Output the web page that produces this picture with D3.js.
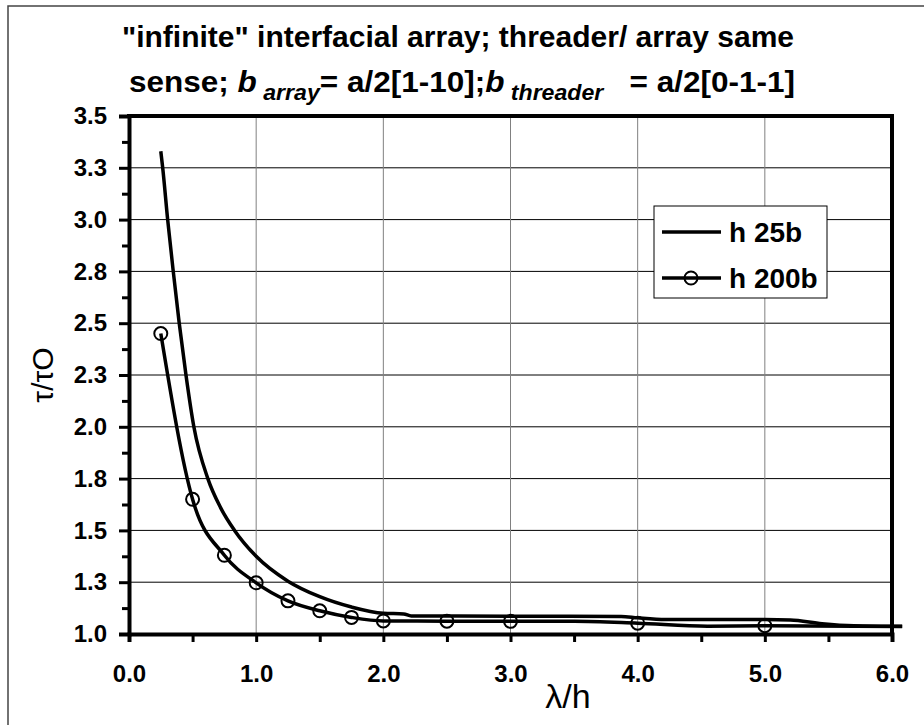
<!DOCTYPE html>
<html>
<head>
<meta charset="utf-8">
<script src="https://cdn.jsdelivr.net/npm/d3@7"></script>
<style>
  body { margin: 0; background: #fff; }
  svg text { font-family: "Liberation Sans", Arial, sans-serif; }
</style>
</head>
<body>
<svg id="chart" width="924" height="725"></svg>
<script>
// series
var h25bX = [0.25, 0.265, 0.304, 0.348, 0.395, 0.448, 0.51, 0.62, 0.72, 0.83, 1.0, 1.25, 1.5, 1.75, 2.0, 2.16, 2.22, 3.0, 3.87, 4.0, 4.22, 5.0, 5.2, 5.45, 5.7, 6.08];
var h25bY = [3.33, 3.25, 3.0, 2.75, 2.5, 2.25, 2.0, 1.75, 1.61, 1.5, 1.375, 1.255, 1.18, 1.13, 1.10, 1.097, 1.087, 1.086, 1.085, 1.078, 1.07, 1.07, 1.068, 1.05, 1.04, 1.037];
var h200bX = [0.25, 0.5, 0.75, 1.0, 1.25, 1.5, 1.75, 2.0, 2.5, 3.0, 3.5, 4.0, 4.55, 5.0, 6.08];
var h200bY = [2.45, 1.65, 1.38, 1.247, 1.16, 1.112, 1.08, 1.063, 1.062, 1.061, 1.061, 1.052, 1.038, 1.04, 1.036];
var h200bMarkX = [0.25, 0.5, 0.75, 1.0, 1.25, 1.5, 1.75, 2.0, 2.5, 3.0, 4.0, 5.0];

var yTicks = [1.0, 1.25, 1.5, 1.75, 2.0, 2.25, 2.5, 2.75, 3.0, 3.25, 3.5];
var yTickLabels = ["1.0", "1.3", "1.5", "1.8", "2.0", "2.3", "2.5", "2.8", "3.0", "3.3", "3.5"];
var xTicks = [0, 1, 2, 3, 4, 5, 6];
var xTickLabels = ["0.0", "1.0", "2.0", "3.0", "4.0", "5.0", "6.0"];
var legendLabels = ["h 25b", "h 200b"];

var svg = d3.select("#chart");
var plotL = 129, plotR = 892, plotT = 116, plotB = 634;

var x = d3.scaleLinear().domain([0, 6]).range([plotL, plotR]);
var y = d3.scaleLinear().domain([1, 3.5]).range([plotB, plotT]);

// outer frame (right and bottom sides fall outside the picture)
svg.append("rect")
   .attr("x", 8).attr("y", 6)
   .attr("width", 930).attr("height", 740)
   .attr("fill", "#fff")
   .attr("stroke", "#444").attr("stroke-width", 1.5);

// title
var title = svg.append("g").attr("font-weight", "bold").attr("fill", "#000");
title.append("text")
     .attr("x", 458).attr("y", 47)
     .attr("text-anchor", "middle")
     .attr("font-size", 30)
     .text("\"infinite\" interfacial array; threader/ array same");
var t2 = title.append("text")
     .attr("x", 462).attr("y", 92)
     .attr("text-anchor", "middle")
     .attr("font-size", 30)
     .style("white-space", "pre");
t2.append("tspan").text("sense; ");
t2.append("tspan").attr("font-style", "italic").text("b");
t2.append("tspan").attr("font-style", "italic").attr("font-size", 22).attr("dy", 8).text(" array");
t2.append("tspan").attr("dy", -8).text("= a/2[1-10];");
t2.append("tspan").attr("font-style", "italic").text("b");
t2.append("tspan").attr("font-style", "italic").attr("font-size", 22).attr("dy", 8).text(" threader");
t2.append("tspan").attr("dy", -8).text("   = a/2[0-1-1]");
// stretch the second line to the width it has in the original
var bb = t2.node().getBBox();
var sx = 666 / bb.width;
t2.attr("transform", "translate(462,0) scale(" + sx + ",1) translate(-462,0)");

// gridlines
var yGrid = yTicks.filter(function (d) { return d > 1 && d < 3.5; });
svg.append("g").selectAll("line").data(yGrid).enter().append("line")
   .attr("x1", plotL).attr("x2", plotR)
   .attr("y1", function (d) { return y(d); }).attr("y2", function (d) { return y(d); })
   .attr("stroke", "#000").attr("stroke-width", 1);
var xGrid = xTicks.filter(function (d) { return d > 0 && d < 6; });
svg.append("g").selectAll("line").data(xGrid).enter().append("line")
   .attr("y1", plotT).attr("y2", plotB)
   .attr("x1", function (d) { return x(d); }).attr("x2", function (d) { return x(d); })
   .attr("stroke", "#808080").attr("stroke-width", 1);

// y axis
var yAxis = svg.append("g")
   .attr("transform", "translate(" + plotL + ",0)")
   .call(d3.axisLeft(y).tickValues(yTicks).tickSize(10).tickPadding(12)
         .tickFormat(function (d, i) { return yTickLabels[i]; }));
var yMinor = d3.range(yTicks.length - 1).map(function (i) { return (yTicks[i] + yTicks[i + 1]) / 2; });
svg.append("g")
   .attr("transform", "translate(" + plotL + ",0)")
   .call(d3.axisLeft(y).tickValues(yMinor).tickSize(7).tickFormat(""))
   .select(".domain").remove();

// x axis
var xMajor = d3.range(0, 6.01, 0.5);
var xAxis = svg.append("g")
   .attr("transform", "translate(0," + plotB + ")")
   .call(d3.axisBottom(x).tickValues(xMajor).tickSize(8).tickPadding(23)
         .tickFormat(function (d) {
           var i = xTicks.indexOf(d);
           return i < 0 ? "" : xTickLabels[i];
         }));

[yAxis, xAxis].forEach(function (g) {
  g.select(".domain").attr("stroke-width", 4).attr("stroke", "#000");
  g.selectAll(".tick text").attr("font-size", 24).attr("font-weight", "bold")
   .attr("font-family", "Liberation Sans, Arial, sans-serif").attr("fill", "#000");
});
svg.selectAll(".tick line").attr("stroke", "#000").attr("stroke-width", 3);

// top and right frame of the plot area
svg.append("line").attr("x1", plotL - 2).attr("x2", plotR + 2).attr("y1", plotT).attr("y2", plotT)
   .attr("stroke", "#000").attr("stroke-width", 4);
svg.append("line").attr("x1", plotR).attr("x2", plotR).attr("y1", plotT).attr("y2", plotB + 2)
   .attr("stroke", "#000").attr("stroke-width", 4);

// axis titles
svg.append("text")
   .attr("transform", "translate(53,375) rotate(-90)")
   .attr("text-anchor", "middle")
   .attr("font-size", 30)
   .text("τ/τO");
svg.append("text")
   .attr("x", 568).attr("y", 708)
   .attr("text-anchor", "middle")
   .attr("font-size", 34)
   .text("λ/h");

// series
var line = d3.line()
   .x(function (d) { return x(d[0]); })
   .y(function (d) { return y(d[1]); })
   .curve(d3.curveMonotoneX);

var h25b = h25bX.map(function (v, i) { return [v, h25bY[i]]; });
var h200b = h200bX.map(function (v, i) { return [v, h200bY[i]]; });

svg.append("path").datum(h25b)
   .attr("d", line).attr("fill", "none")
   .attr("stroke", "#000").attr("stroke-width", 3.5);
svg.append("path").datum(h200b)
   .attr("d", line).attr("fill", "none")
   .attr("stroke", "#000").attr("stroke-width", 3.5);

svg.append("g").selectAll("circle")
   .data(h200b.filter(function (d) { return h200bMarkX.indexOf(d[0]) >= 0; }))
   .enter().append("circle")
   .attr("cx", function (d) { return x(d[0]); })
   .attr("cy", function (d) { return y(d[1]); })
   .attr("r", 6.5)
   .attr("fill", "none").attr("stroke", "#000").attr("stroke-width", 2);

// legend
var legend = svg.append("g").attr("transform", "translate(654,206)");
legend.append("rect")
   .attr("width", 173).attr("height", 92)
   .attr("fill", "#fff").attr("stroke", "#000").attr("stroke-width", 1);
legendLabels.forEach(function (label, i) {
  var ly = 26 + i * 46;
  legend.append("line")
     .attr("x1", 8).attr("x2", 67).attr("y1", ly).attr("y2", ly)
     .attr("stroke", "#000").attr("stroke-width", 3.5);
  if (i == 1) {
    legend.append("circle")
       .attr("cx", 37).attr("cy", ly).attr("r", 6.5)
       .attr("fill", "none").attr("stroke", "#000").attr("stroke-width", 2);
  }
  legend.append("text")
     .attr("x", 75).attr("y", ly + 10)
     .attr("font-size", 28).attr("font-weight", "bold")
     .text(label);
});
</script>
</body>
</html>
